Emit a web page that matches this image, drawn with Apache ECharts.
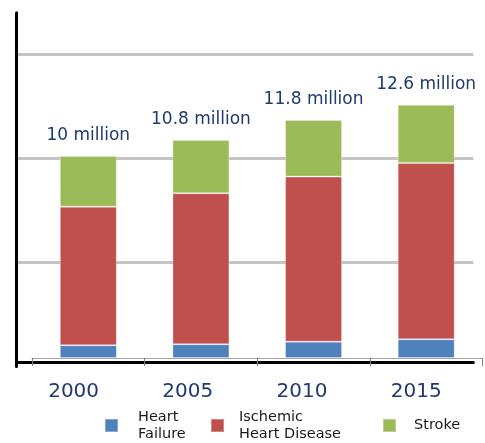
<!DOCTYPE html>
<html>
<head>
<meta charset="utf-8">
<script src="https://cdn.jsdelivr.net/npm/echarts@6/dist/echarts.min.js"></script>
<style>
html,body{margin:0;padding:0;background:#fff;}
#chart{width:485px;height:443px;}
</style>
</head>
<body>
<div id="chart"></div>
<script>
// Data (millions of deaths)
const years = ['2000', '2005', '2010', '2015'];
const seriesNames = ['Heart Failure', 'Ischemic Heart Disease', 'Stroke'];
const legendLabels = ['Heart\nFailure', 'Ischemic\nHeart Disease', 'Stroke'];
const heartFailure = [0.63, 0.68, 0.81, 0.93];
const ischemic = [6.87, 7.49, 8.18, 8.73];
const stroke = [2.51, 2.64, 2.81, 2.89];
const totalLabels = ['10 million', '10.8 million', '11.8 million', '12.6 million'];
const gridTicks = { min: 0, max: 17, interval: 5 };

const colors = ['#4F81BD', '#C0504D', '#9BBB59'];
const navy = '#1F3A6E';
const font = 'DejaVu Sans';

const chart = echarts.init(document.getElementById('chart'), null, { renderer: 'canvas' });

function legendFor(i, left, top, padLeft, padTop) {
  return {
    data: [seriesNames[i]],
    left: left, top: top, padding: 0,
    orient: 'horizontal',
    icon: 'rect', itemWidth: 13, itemHeight: 13,
    selectedMode: false,
    formatter: function () { return legendLabels[i]; },
    textStyle: {
      fontFamily: font, fontSize: 14.5, color: '#1a1a1a', lineHeight: 17,
      padding: [padTop, 0, 0, padLeft]
    }
  };
}

const option = {
  animation: false,
  backgroundColor: '#ffffff',
  grid: [
    { left: 16.5, right: 11.7, top: 12.7, bottom: 76.4, outerBoundsMode: 'none', containLabel: false },
    { left: 32, right: 2.5, top: 15, bottom: 85, outerBoundsMode: 'none', containLabel: false }
  ],
  xAxis: [
    {
      gridIndex: 0, type: 'category', data: years, offset: -4,
      axisLine: { show: true, lineStyle: { color: '#000', width: 3 } },
      axisTick: { show: false },
      axisLabel: { color: navy, fontFamily: font, fontSize: 20, margin: 19 },
      splitLine: { show: false }
    },
    {
      gridIndex: 1, type: 'category', data: years,
      axisLine: { show: true, lineStyle: { color: '#a6a6a6', width: 1 } },
      axisTick: { show: true, length: 8, lineStyle: { color: '#808080', width: 1 } },
      axisLabel: { show: false },
      splitLine: { show: false }
    }
  ],
  yAxis: [
    {
      gridIndex: 0, type: 'value', min: gridTicks.min, max: gridTicks.max, interval: gridTicks.interval,
      axisLine: { show: true, lineStyle: { color: '#000', width: 3 } },
      axisTick: { show: false },
      axisLabel: { show: false },
      splitLine: { show: true, showMinLine: false, showMaxLine: false, lineStyle: { color: '#c4c4c4', width: 3 } }
    },
    {
      gridIndex: 1, type: 'value', min: 0, max: 17, show: false,
      splitLine: { show: false }
    }
  ],
  legend: [
    legendFor(0, 104, 404.5, 15, 8),
    legendFor(1, 210, 404.5, 10, 8),
    legendFor(2, 382, 417, 13, 0)
  ],
  series: [
    {
      name: seriesNames[0], type: 'bar', stack: 'total', xAxisIndex: 1, yAxisIndex: 1,
      data: heartFailure, barWidth: 57,
      itemStyle: { color: colors[0], borderColor: 'rgba(255,255,255,0.3)', borderWidth: 1 }
    },
    {
      name: seriesNames[1], type: 'bar', stack: 'total', xAxisIndex: 1, yAxisIndex: 1,
      data: ischemic, barWidth: 57,
      itemStyle: { color: colors[1], borderColor: 'rgba(255,255,255,0.3)', borderWidth: 1 }
    },
    {
      name: seriesNames[2], type: 'bar', stack: 'total', xAxisIndex: 1, yAxisIndex: 1,
      data: stroke, barWidth: 57,
      itemStyle: { color: colors[2], borderColor: 'rgba(255,255,255,0.3)', borderWidth: 1 },
      label: {
        show: true, position: 'top', distance: 12,
        color: navy, fontFamily: font, fontSize: 17,
        formatter: function (p) { return totalLabels[p.dataIndex]; }
      }
    }
  ]
};

chart.setOption(option);
</script>
</body>
</html>
